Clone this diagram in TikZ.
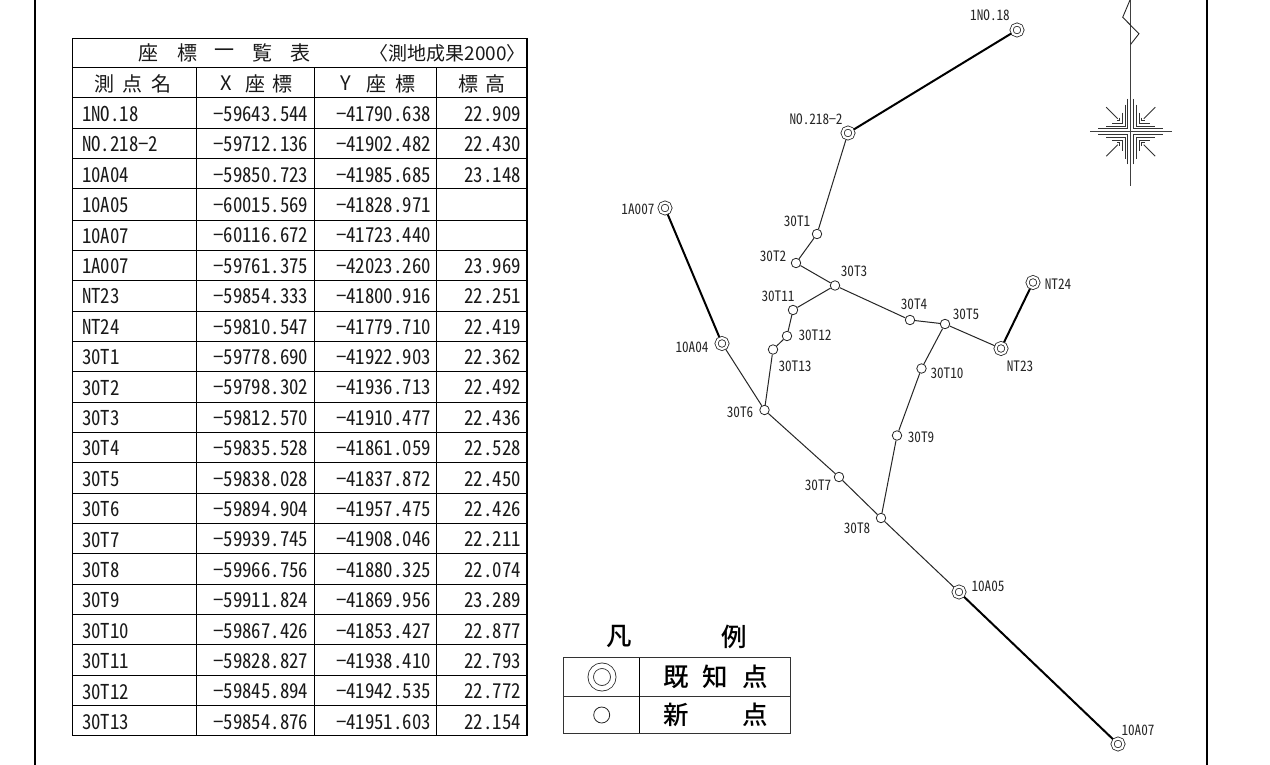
\documentclass[tikz,border=0pt]{standalone}
\usepackage{fontspec}
\setmainfont{Noto Sans CJK JP}
\newfontfamily\hw[RawFeature=+hwid,FakeStretch=0.917]{Noto Sans CJK JP}
\newfontfamily\bj{Noto Sans CJK JP Medium}
\newcommand{\mn}{\makebox[.46em][c]{−}}
\tikzset{
 x=1pt,y=-1pt,
 frameline/.style={line width=2pt,black},
 tableline/.style={line width=1pt,black},
 thinline/.style={line width=1pt,black!85},
 thickline/.style={line width=2pt,black},
 newpt/.style={circle,draw=black!85,line width=.8pt,fill=white,inner sep=0pt,minimum size=9.5pt},
 knownpt/.style={circle,draw=black!85,line width=.8pt,double,double distance=2.2pt,fill=white,inner sep=0pt,minimum size=11pt,outer sep=1.5pt},
 lbl/.style={font=\hw\fontsize{14.4}{15}\selectfont,text=black!85,inner sep=0pt},
 cell/.style={font=\hw\fontsize{20.5}{22}\selectfont,text=black!90,inner sep=0pt},
 head/.style={font=\normalfont\fontsize{20}{22}\selectfont,text=black!90,inner sep=0pt},
 cellr/.style={cell,anchor=east},
 celll/.style={cell,anchor=west},
 leg/.style={font=\bj\fontsize{25.5}{27}\selectfont,inner sep=0pt},
}
\begin{document}
\begin{tikzpicture}
\useasboundingbox[fill=white] (0,0) rectangle (1270,765);
% frame
\coordinate (fa) at (35,0); \coordinate (fb) at (35,765);
\coordinate (fc) at (1206.5,0); \coordinate (fd) at (1206.5,765);
\draw[frameline] (fa)--(fb);
\draw[frameline] (fc)--(fd);
% table
\draw[line width=1.6pt] (72.5,38.5) rectangle (527,735.5);
\foreach \yy in {68,98,129,159,189,220,250,280,311,341,371,402,432,462,493,523,553,584,614,644,675,705}
  \draw[tableline] (72.5,\yy) -- (527,\yy);
\foreach \xx in {196,314,436}
  \draw[tableline] (\xx,68) -- (\xx,735.5);
\foreach \t/\xx in {座/148,標/187,一/224,覧/262,表/300}
  \node[head] at (\xx,53) {\t};
\node[head,font=\normalfont\fontsize{19}{21}\selectfont,anchor=east] at (526,53) {〈測地成果2000〉};
\foreach \t/\xx in {測/104,点/132,名/161,X/226,座/255,標/282,Y/346,座/376,標/405,標/468,高/495}
  \node[head] at (\xx,83.5) {\t};
\foreach \n/\a/\b/\c [count=\i from 0] in {
 1NO.18/\mn59643.544/\mn41790.638/22.909,
 NO.218\mn2/\mn59712.136/\mn41902.482/22.430,
 10A04/\mn59850.723/\mn41985.685/23.148,
 10A05/\mn60015.569/\mn41828.971/,
 10A07/\mn60116.672/\mn41723.440/,
 1A007/\mn59761.375/\mn42023.260/23.969,
 NT23/\mn59854.333/\mn41800.916/22.251,
 NT24/\mn59810.547/\mn41779.710/22.419,
 30T1/\mn59778.690/\mn41922.903/22.362,
 30T2/\mn59798.302/\mn41936.713/22.492,
 30T3/\mn59812.570/\mn41910.477/22.436,
 30T4/\mn59835.528/\mn41861.059/22.528,
 30T5/\mn59838.028/\mn41837.872/22.450,
 30T6/\mn59894.904/\mn41957.475/22.426,
 30T7/\mn59939.745/\mn41908.046/22.211,
 30T8/\mn59966.756/\mn41880.325/22.074,
 30T9/\mn59911.824/\mn41869.956/23.289,
 30T10/\mn59867.426/\mn41853.427/22.877,
 30T11/\mn59828.827/\mn41938.410/22.793,
 30T12/\mn59845.894/\mn41942.535/22.772,
 30T13/\mn59854.876/\mn41951.603/22.154}{
  \pgfmathsetmacro\yy{114+30.4*\i}
  \node[celll] at (82,\yy) {\n};
  \node[cellr] at (308.5,\yy) {\a};
  \node[cellr] at (431,\yy) {\b};
  \node[cellr] at (521,\yy) {\c};
}
% points
\node[knownpt] (p1no18) at (1017,30) {};
\node[knownpt] (pno218) at (848,133) {};
\node[knownpt] (p1a007) at (665,208) {};
\node[knownpt] (p10a04) at (722,343.5) {};
\node[knownpt] (pnt23) at (1001,348.5) {};
\node[knownpt] (pnt24) at (1033,282.5) {};
\node[knownpt] (p10a05) at (959,592) {};
\node[knownpt] (p10a07) at (1118,744) {};
\node[newpt] (t1) at (817,234) {};
\node[newpt] (t2) at (796,263) {};
\node[newpt] (t3) at (835,285.5) {};
\node[newpt] (t4) at (910,320) {};
\node[newpt] (t5) at (945,324) {};
\node[newpt] (t6) at (764.5,410) {};
\node[newpt] (t7) at (839,477) {};
\node[newpt] (t8) at (881,518) {};
\node[newpt] (t9) at (897,435.5) {};
\node[newpt] (t10) at (921.5,368.5) {};
\node[newpt] (t11) at (793,310) {};
\node[newpt] (t12) at (787,336) {};
\node[newpt] (t13) at (773,349.5) {};
% connectors
\draw[thickline] (p1no18)--(pno218);
\draw[thickline] (p1a007)--(p10a04);
\draw[thickline] (pnt24)--(pnt23);
\draw[thickline] (p10a05)--(p10a07);
\foreach \a/\b in {pno218/t1,t1/t2,t2/t3,t3/t4,t4/t5,t5/pnt23,t3/t11,t11/t12,t12/t13,t13/t6,p10a04/t6,t6/t7,t7/t8,t8/p10a05,t8/t9,t9/t10,t10/t5}
  \draw[thinline] (\a)--(\b);
% labels
\node[lbl] at (990,15) {1NO.18};
\node[lbl] at (816,119) {NO.218\mn2};
\node[lbl] at (797,221) {30T1};
\node[lbl] at (773,256) {30T2};
\node[lbl] at (854,271) {30T3};
\node[lbl] at (778,296) {30T11};
\node[lbl] at (815,335) {30T12};
\node[lbl] at (795,366) {30T13};
\node[lbl] at (914,304) {30T4};
\node[lbl] at (966,314) {30T5};
\node[lbl] at (1020,366) {NT23};
\node[lbl] at (1058,284) {NT24};
\node[lbl] at (638,209) {1A007};
\node[lbl] at (692,347) {10A04};
\node[lbl] at (740,412) {30T6};
\node[lbl] at (818,485) {30T7};
\node[lbl] at (857,528) {30T8};
\node[lbl] at (921,437) {30T9};
\node[lbl] at (947,373) {30T10};
\node[lbl] at (988,586) {10A05};
\node[lbl] at (1138,730) {10A07};
% north mark
\coordinate (nc) at (1130.7,131.7);
\draw[line width=.9pt,black!75] (1130.7,0) -- (1130.7,186);
\draw[line width=.9pt,black!85] (1130,0) -- (1122.7,17.3) -- (1139,33.7) -- (1130.7,44.3);
\draw[line width=.9pt,black!75] (1090,131.7) -- (1171.7,131.7);
\begin{scope}[shift={(nc)}]
\foreach \sx/\sy in {1/1,1/-1,-1/1,-1/-1}{
 \begin{scope}[xscale=\sx,yscale=\sy,line width=.9pt,black!80]
  \draw (2.9,32.7) -- (2.9,2.9) -- (32.7,2.9);
  \draw (5.6,27) -- (5.6,5.6) -- (24.5,5.6);
  \draw (8.3,19) -- (8.3,8.3) -- (19,8.3);
  \draw (11,14) -- (11,11) -- (14,11);
  \draw (24.5,24.5) -- (13,13);
 \end{scope}
}
\end{scope}
% legend
\node[leg] at (619,637) {凡};
\node[leg] at (734,637) {例};
\draw[line width=1pt,black!80] (563.5,657.7) rectangle (790.5,733.3);
\draw[line width=1pt,black!80] (563.5,696) -- (790.5,696);
\draw[line width=1pt,black] (639.3,657.7) -- (639.3,733.3);
\node[circle,draw=black!85,line width=.8pt,double,double distance=4.6pt,inner sep=0pt,minimum size=22.6pt] (ls1) at (602,677) {};
\node[newpt,minimum size=16pt] (ls2) at (601.7,715) {};
\foreach \t/\xx/\yy in {既/676/677,知/715/677,点/755/677,新/676/715,点/755/715}
  \node[leg] at (\xx,\yy) {\t};
\end{tikzpicture}
\end{document}
